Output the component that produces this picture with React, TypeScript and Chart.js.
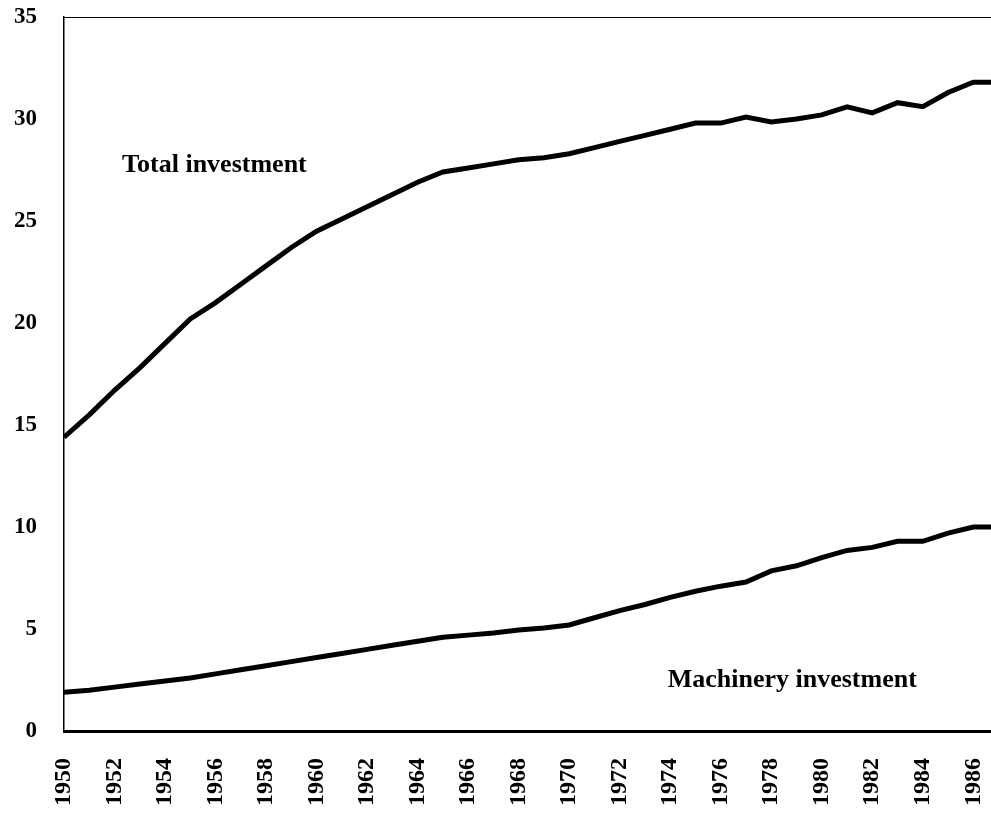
import React, { useEffect, useRef } from "react";
import { Chart, registerables } from "chart.js";

Chart.register(...registerables);

const years = [
  1950, 1951, 1952, 1953, 1954, 1955, 1956, 1957, 1958, 1959,
  1960, 1961, 1962, 1963, 1964, 1965, 1966, 1967, 1968, 1969,
  1970, 1971, 1972, 1973, 1974, 1975, 1976, 1977, 1978, 1979,
  1980, 1981, 1982, 1983, 1984, 1985, 1986, 1987,
];

const totalInvestment = [
  14.4, 15.5, 16.7, 17.8, 19.0, 20.2, 21.0, 21.9, 22.8, 23.7,
  24.5, 25.1, 25.7, 26.3, 26.9, 27.4, 27.6, 27.8, 28.0, 28.1,
  28.3, 28.6, 28.9, 29.2, 29.5, 29.8, 29.8, 30.1, 29.85, 30.0,
  30.2, 30.6, 30.3, 30.8, 30.6, 31.3, 31.8, 31.8,
];

const machineryInvestment = [
  1.9, 2.0, 2.15, 2.3, 2.45, 2.6, 2.8, 3.0, 3.2, 3.4,
  3.6, 3.8, 4.0, 4.2, 4.4, 4.6, 4.7, 4.8, 4.95, 5.05,
  5.2, 5.55, 5.9, 6.2, 6.55, 6.85, 7.1, 7.3, 7.85, 8.1,
  8.5, 8.85, 9.0, 9.3, 9.3, 9.7, 10.0, 10.0,
];

const seriesLabels = ["Total investment", "Machinery investment"];
const labelAnchors = [
  { x: 1952.3, y: 27.75 },
  { x: 1973.9, y: 2.5 },
];

const FONT = "'Liberation Serif', 'Times New Roman', serif";

const textPlugin = {
  id: "seriesText",
  afterDatasetsDraw(chart: any) {
    const { ctx, scales } = chart;
    ctx.save();
    ctx.fillStyle = "#000";
    ctx.font = `bold 26px ${FONT}`;
    ctx.textAlign = "left";
    ctx.textBaseline = "middle";
    seriesLabels.forEach((t, i) => {
      const a = labelAnchors[i];
      ctx.fillText(t, scales.x.getPixelForValue(a.x), scales.y.getPixelForValue(a.y));
    });
    ctx.restore();
  },
};

export default function App() {
  const ref = useRef<HTMLCanvasElement>(null);
  useEffect(() => {
    if (!ref.current) return;
    const chart = new Chart(ref.current, {
      type: "line",
      data: {
        datasets: [
          {
            label: seriesLabels[0],
            data: years.map((y, i) => ({ x: y, y: totalInvestment[i] })),
            borderColor: "#000",
            borderWidth: 5,
            pointRadius: 0,
            tension: 0,
            fill: false,
          },
          {
            label: seriesLabels[1],
            data: years.map((y, i) => ({ x: y, y: machineryInvestment[i] })),
            borderColor: "#000",
            borderWidth: 5,
            pointRadius: 0,
            tension: 0,
            fill: false,
          },
        ],
      },
      options: {
        animation: false,
        responsive: false,
        maintainAspectRatio: false,
        layout: { padding: { top: 17, right: 0, left: 0, bottom: 0 } },
        plugins: { legend: { display: false }, tooltip: { enabled: false } },
        scales: {
          x: {
            type: "linear",
            min: 1950,
            max: 1986.7,
            afterBuildTicks: (axis: any) => {
              const t = [];
              for (let v = 1950; v <= 1986; v += 2) t.push({ value: v });
              axis.ticks = t;
            },
            afterFit: (axis: any) => {
              axis.height = 83;
              axis.paddingLeft = 0;
              axis.paddingRight = 0;
            },
            grid: { display: false, drawTicks: false },
            border: { display: true, color: "#000", width: 3 },
            ticks: {
              minRotation: 90,
              maxRotation: 90,
              autoSkip: false,
              padding: 27,
              color: "#000",
              font: { family: FONT, size: 24, weight: "bold" },
              callback: (v: any) => String(v),
            },
          },
          x2: {
            type: "linear",
            position: "top",
            min: 1950,
            max: 1986.7,
            grid: { display: false, drawTicks: false },
            border: { display: true, color: "#000", width: 1, dash: [6, 2] },
            ticks: { display: false },
            afterFit: (axis: any) => {
              axis.height = 0;
              axis.paddingLeft = 0;
              axis.paddingRight = 0;
            },
          },
          y: {
            min: 0,
            max: 35,
            afterBuildTicks: (axis: any) => {
              const t = [];
              for (let v = 0; v <= 35; v += 5) t.push({ value: v });
              axis.ticks = t;
            },
            afterFit: (axis: any) => {
              axis.width = 64;
              axis.paddingTop = 0;
              axis.paddingBottom = 0;
            },
            grid: { display: false, drawTicks: false },
            border: { display: true, color: "#000", width: 1.5, dash: [8, 2] },
            ticks: {
              padding: 27,
              color: "#000",
              font: { family: FONT, size: 23, weight: "bold" },
            },
          },
        },
      },
      plugins: [textPlugin],
    });
    return () => chart.destroy();
  }, []);
  return (
    <canvas
      ref={ref}
      width={991}
      height={814}
      style={{ position: "absolute", left: 0, top: 0, width: 991, height: 814, background: "#fff" }}
    />
  );
}
